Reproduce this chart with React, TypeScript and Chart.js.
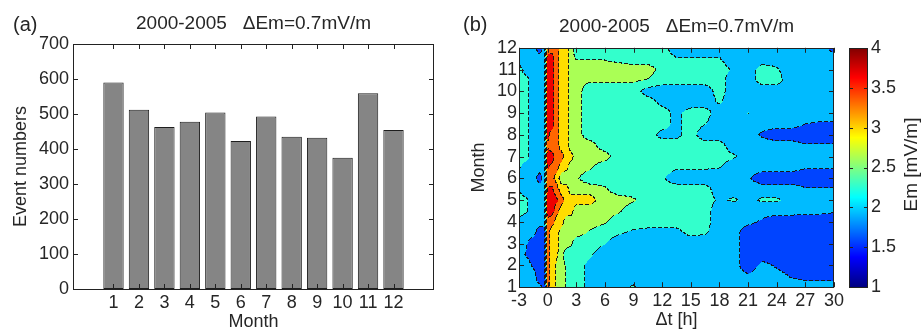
import React, { useEffect, useRef } from 'react';
import { Chart, registerables } from 'chart.js';

Chart.register(...registerables);

const FONT = "'Liberation Sans', Arial, Helvetica, sans-serif";
const TEXT = '#262626';

// ---------- Panel (a) ----------
const months = [1, 2, 3, 4, 5, 6, 7, 8, 9, 10, 11, 12];
const eventNumbers = [590, 512, 463, 478, 504, 423, 493, 435, 432, 375, 559, 454];
const panelTitle = '2000-2005   \u0394Em=0.7mV/m';

// ---------- Panel (b) ----------
const dtNodes = [-3, -2.2, -1.5, -0.8, -0.3, 0, 0.5, 1, 1.5, 2, 2.5, 3, 4.5, 6, 7.5, 9, 10.5, 12, 13.5, 15, 16.5, 18, 19.5, 21, 22.5, 24, 25.5, 27, 28.5, 30];
const monthNodes = [1, 1.5, 2, 2.5, 3, 3.5, 4, 4.5, 5, 5.5, 6, 6.5, 7, 7.5, 8, 8.5, 9, 9.5, 10, 10.5, 11, 11.5, 12];
// Em [mV/m] read at (month, dt) nodes
const emGrid: number[][] = [
  /* 1   */ [1.9, 1.9, 1.9, 1.8, 1.7, 3.3, 2.95, 2.75, 2.6, 2.4, 2.25, 2.25, 2.0, 1.9, 1.9, 2.15, 1.9, 1.9, 1.9, 1.9, 1.9, 1.9, 1.9, 1.9, 1.9, 1.9, 1.9, 1.9, 1.9, 1.9],
  /* 1.5 */ [1.9, 1.9, 1.9, 1.55, 1.55, 3.3, 2.95, 2.75, 2.6, 2.4, 2.25, 2.25, 2.0, 1.9, 1.9, 1.9, 1.9, 1.9, 1.9, 1.9, 1.9, 1.9, 1.9, 1.8, 1.9, 1.9, 1.72, 1.65, 1.65, 1.65],
  /* 2   */ [1.9, 1.9, 1.7, 1.55, 1.55, 3.3, 2.95, 2.75, 2.6, 2.4, 2.25, 2.25, 2.0, 1.9, 1.9, 1.9, 1.9, 1.9, 1.9, 1.9, 1.9, 1.9, 1.9, 1.55, 1.85, 1.7, 1.55, 1.55, 1.55, 1.55],
  /* 2.5 */ [1.9, 1.72, 1.55, 1.55, 1.55, 3.3, 2.95, 2.85, 2.6, 2.25, 2.25, 2.25, 2.15, 1.9, 1.9, 1.9, 1.9, 1.9, 1.9, 1.9, 1.9, 1.9, 1.9, 1.55, 1.55, 1.55, 1.55, 1.55, 1.55, 1.55],
  /* 3   */ [1.9, 1.78, 1.55, 1.55, 1.55, 3.3, 2.95, 2.95, 2.6, 2.6, 2.5, 2.25, 2.25, 2.12, 1.9, 1.9, 1.9, 1.9, 1.9, 1.9, 1.9, 1.9, 1.9, 1.55, 1.55, 1.55, 1.55, 1.55, 1.55, 1.55],
  /* 3.5 */ [1.9, 1.9, 1.9, 1.55, 1.55, 3.3, 2.95, 2.95, 2.6, 2.6, 2.6, 2.6, 2.4, 2.25, 2.15, 2.05, 2.0, 2.0, 2.0, 2.2, 2.15, 1.9, 1.9, 1.55, 1.55, 1.55, 1.55, 1.55, 1.55, 1.55],
  /* 4   */ [2.0, 1.9, 1.9, 1.9, 1.9, 3.45, 3.3, 2.95, 2.95, 2.6, 2.6, 2.6, 2.6, 2.5, 2.25, 2.25, 2.25, 2.25, 2.25, 2.25, 2.25, 1.9, 1.9, 1.85, 1.7, 1.55, 1.55, 1.55, 1.55, 1.55],
  /* 4.5 */ [2.25, 2.15, 1.9, 1.9, 1.9, 3.65, 3.65, 3.3, 2.95, 2.95, 2.95, 2.6, 2.6, 2.6, 2.5, 2.25, 2.25, 2.25, 2.25, 2.25, 2.25, 1.9, 1.9, 1.9, 1.9, 1.9, 1.9, 1.85, 1.85, 1.8],
  /* 5   */ [2.25, 2.15, 1.9, 1.9, 1.9, 3.65, 3.65, 3.55, 3.3, 2.95, 2.95, 2.95, 2.95, 2.6, 2.6, 2.5, 2.25, 2.25, 2.25, 2.25, 2.25, 2.05, 2.15, 2.0, 2.15, 2.15, 2.0, 1.9, 1.9, 1.9],
  /* 5.5 */ [2.05, 1.9, 1.9, 1.9, 1.9, 3.55, 3.55, 3.3, 2.95, 2.95, 2.6, 2.6, 2.6, 2.5, 2.25, 2.25, 2.25, 2.25, 2.25, 2.25, 2.25, 1.9, 1.9, 1.9, 1.9, 1.9, 1.9, 1.78, 1.78, 1.78],
  /* 6   */ [1.9, 1.9, 1.9, 1.6, 1.9, 3.3, 3.3, 2.95, 2.6, 2.6, 2.6, 2.5, 2.25, 2.25, 2.25, 2.25, 2.25, 2.15, 1.9, 1.9, 1.9, 1.9, 1.9, 1.8, 1.55, 1.55, 1.55, 1.55, 1.55, 1.55],
  /* 6.5 */ [2.15, 1.9, 1.9, 1.9, 1.9, 3.55, 3.4, 3.3, 2.95, 2.9, 2.6, 2.6, 2.5, 2.25, 2.25, 2.25, 2.25, 2.25, 2.15, 2.15, 2.15, 2.12, 1.9, 1.9, 1.9, 1.9, 1.9, 1.78, 1.78, 1.78],
  /* 7   */ [2.25, 2.25, 1.9, 1.9, 1.9, 3.65, 3.65, 3.3, 3.3, 2.95, 2.95, 2.6, 2.6, 2.6, 2.25, 2.25, 2.25, 2.25, 2.25, 2.25, 2.25, 2.25, 2.15, 1.9, 1.9, 1.9, 1.9, 1.9, 1.9, 1.9],
  /* 7.5 */ [2.25, 2.25, 1.9, 1.9, 1.9, 3.45, 3.3, 3.3, 2.95, 2.95, 2.6, 2.6, 2.6, 2.25, 2.25, 2.25, 2.25, 2.25, 2.25, 2.25, 2.25, 2.25, 1.9, 1.9, 1.9, 1.9, 1.9, 1.78, 1.78, 1.78],
  /* 8   */ [2.25, 2.25, 1.9, 1.9, 1.9, 3.65, 3.3, 3.3, 2.95, 2.95, 2.6, 2.6, 2.25, 2.25, 2.25, 2.25, 2.25, 2.0, 2.0, 2.25, 1.9, 1.9, 1.9, 1.9, 1.7, 1.55, 1.55, 1.55, 1.55, 1.55],
  /* 8.5 */ [2.25, 2.25, 1.9, 1.9, 1.9, 3.65, 3.65, 3.3, 2.95, 2.95, 2.6, 2.6, 2.25, 2.25, 2.25, 2.25, 2.25, 2.25, 2.0, 2.25, 2.12, 1.9, 1.9, 1.9, 1.9, 1.9, 1.9, 1.76, 1.72, 1.72],
  /* 9   */ [2.25, 2.25, 1.9, 1.9, 1.9, 3.65, 3.65, 3.3, 2.95, 2.95, 2.6, 2.6, 2.25, 2.25, 2.25, 2.25, 2.25, 2.25, 2.02, 2.25, 2.25, 1.9, 1.9, 2.12, 1.9, 1.9, 1.9, 1.9, 1.9, 1.9],
  /* 9.5 */ [2.25, 2.25, 1.9, 1.9, 1.9, 3.65, 3.65, 3.3, 2.95, 2.95, 2.6, 2.6, 2.25, 2.25, 2.25, 2.25, 2.25, 2.0, 1.9, 1.9, 1.9, 2.15, 1.9, 1.9, 1.9, 1.9, 1.9, 1.9, 1.9, 1.9],
  /* 10  */ [2.25, 2.25, 1.9, 1.9, 1.9, 3.65, 3.65, 3.3, 2.95, 2.95, 2.6, 2.6, 2.25, 2.25, 2.25, 2.25, 1.95, 1.9, 1.9, 1.9, 1.9, 2.25, 1.9, 1.9, 1.9, 1.9, 1.9, 1.9, 1.9, 1.9],
  /* 10.5*/ [2.25, 2.25, 1.9, 1.9, 1.9, 3.65, 3.65, 3.3, 2.95, 2.95, 2.6, 2.5, 2.5, 2.5, 2.5, 2.5, 2.43, 2.25, 2.25, 2.25, 2.25, 2.25, 1.9, 1.9, 2.25, 2.25, 1.9, 1.9, 1.9, 1.9],
  /* 11  */ [2.25, 1.9, 1.9, 1.9, 1.9, 3.65, 3.65, 3.3, 2.95, 2.95, 2.6, 2.6, 2.6, 2.6, 2.6, 2.6, 2.6, 2.35, 2.25, 2.25, 2.25, 2.25, 2.05, 1.9, 2.25, 2.15, 1.9, 1.9, 1.9, 1.9],
  /* 11.5*/ [1.9, 1.9, 1.9, 1.9, 1.9, 3.65, 3.65, 3.3, 2.95, 2.95, 2.6, 2.42, 2.42, 2.42, 2.35, 2.25, 2.25, 2.25, 2.12, 2.12, 2.12, 2.12, 1.9, 1.9, 1.9, 1.9, 1.9, 1.9, 1.9, 1.9],
  /* 12  */ [1.9, 1.9, 1.9, 1.55, 1.9, 3.3, 3.3, 3.3, 2.95, 2.95, 2.6, 2.25, 2.25, 2.25, 2.25, 2.25, 2.25, 2.25, 1.9, 1.9, 1.9, 1.9, 1.9, 1.9, 1.9, 1.9, 1.9, 1.9, 1.9, 1.62],
];
const contourLevels = [1.4, 1.75, 2.1, 2.45, 2.8, 3.15, 3.5, 3.85];
const emMin = 1;
const emMax = 4;

// ---------- helpers ----------
function jet(t: number): [number, number, number] {
  const c = (x: number) => Math.max(0, Math.min(1, x));
  return [c(1.5 - Math.abs(4 * t - 3)), c(1.5 - Math.abs(4 * t - 2)), c(1.5 - Math.abs(4 * t - 1))];
}
function emColor(v: number): [number, number, number] {
  const [r, g, b] = jet((v - emMin) / (emMax - emMin));
  return [Math.round(r * 255), Math.round(g * 255), Math.round(b * 255)];
}
function locate(nodes: number[], v: number): [number, number] {
  let k = 0;
  while (k < nodes.length - 2 && v > nodes[k + 1]) k++;
  const f = (v - nodes[k]) / (nodes[k + 1] - nodes[k]);
  return [k, Math.max(0, Math.min(1, f))];
}

const bandColors: [number, number, number][] = [];
for (let k = 0; k <= contourLevels.length; k++) {
  const lo = k === 0 ? emMin : contourLevels[k - 1];
  const hi = k === contourLevels.length ? emMax : contourLevels[k];
  bandColors.push(emColor((lo + hi) / 2));
}

const boxPlugin = {
  id: 'matlabBox',
  afterDatasetsDraw(chart: any) {
    const { ctx, chartArea: a } = chart;
    const xs = chart.scales.x;
    const ys = chart.scales.y;
    const L = 5;
    ctx.save();
    ctx.strokeStyle = '#222';
    ctx.lineWidth = 1;
    ctx.beginPath();
    xs.ticks.forEach((t: any) => {
      const px = Math.round(xs.getPixelForValue(t.value)) + 0.5;
      ctx.moveTo(px, a.bottom);
      ctx.lineTo(px, a.bottom - L);
      ctx.moveTo(px, a.top);
      ctx.lineTo(px, a.top + L);
    });
    ys.ticks.forEach((t: any) => {
      const py = Math.round(ys.getPixelForValue(t.value)) + 0.5;
      ctx.moveTo(a.left, py);
      ctx.lineTo(a.left + L, py);
      ctx.moveTo(a.right, py);
      ctx.lineTo(a.right - L, py);
    });
    ctx.stroke();
    ctx.strokeRect(Math.round(a.left) + 0.5, Math.round(a.top) + 0.5, Math.round(a.right - a.left) - 1, Math.round(a.bottom - a.top));
    ctx.restore();
  },
};

const panelLabel = (text: string) => ({
  id: 'panelLabel',
  afterDraw(chart: any) {
    const ctx = chart.ctx;
    ctx.save();
    ctx.font = `20px ${FONT}`;
    ctx.fillStyle = TEXT;
    ctx.textBaseline = 'middle';
    ctx.textAlign = 'left';
    ctx.fillText(text, 13, 25);
    ctx.restore();
  },
});

const contourPlugin = {
  id: 'contourFill',
  beforeDatasetsDraw(chart: any) {
    const { ctx, chartArea: a } = chart;
    const xs = chart.scales.x;
    const ys = chart.scales.y;
    const x0 = Math.round(a.left);
    const y0 = Math.round(a.top);
    const w = Math.round(a.right) - x0;
    const h = Math.round(a.bottom) - y0;
    const ci = new Int32Array(w);
    const cf = new Float64Array(w);
    for (let i = 0; i < w; i++) {
      const [k, f] = locate(dtNodes, xs.getValueForPixel(x0 + i + 0.5));
      ci[i] = k;
      cf[i] = f;
    }
    const ri = new Int32Array(h);
    const rf = new Float64Array(h);
    for (let j = 0; j < h; j++) {
      const [k, f] = locate(monthNodes, ys.getValueForPixel(y0 + j + 0.5));
      ri[j] = k;
      rf[j] = f;
    }
    const band = new Uint8Array(w * h);
    for (let j = 0; j < h; j++) {
      const r0 = emGrid[ri[j]];
      const r1 = emGrid[ri[j] + 1];
      const g = rf[j];
      for (let i = 0; i < w; i++) {
        const c = ci[i];
        const f = cf[i];
        const v = (1 - g) * ((1 - f) * r0[c] + f * r0[c + 1]) + g * ((1 - f) * r1[c] + f * r1[c + 1]);
        let b = 0;
        while (b < contourLevels.length && v >= contourLevels[b]) b++;
        band[j * w + i] = b;
      }
    }
    const off = document.createElement('canvas');
    off.width = w;
    off.height = h;
    const octx = off.getContext('2d') as CanvasRenderingContext2D;
    const img = octx.createImageData(w, h);
    const d = img.data;
    for (let j = 0; j < h; j++) {
      for (let i = 0; i < w; i++) {
        const k = j * w + i;
        const b = band[k];
        let edge = false;
        if (i + 1 < w && band[k + 1] !== b) edge = true;
        if (j + 1 < h && band[k + w] !== b) edge = true;
        let [r, gg, bb] = bandColors[b];
        if (edge && (i + j) % 6 < 4) {
          r = 25; gg = 25; bb = 25;
        }
        d[k * 4] = r;
        d[k * 4 + 1] = gg;
        d[k * 4 + 2] = bb;
        d[k * 4 + 3] = 255;
      }
    }
    octx.putImageData(img, 0, 0);
    ctx.save();
    ctx.drawImage(off, x0, y0);
    ctx.restore();
  },
};

const colorbarPlugin = {
  id: 'colorbar',
  afterDraw(chart: any) {
    const { ctx } = chart;
    const cb = chart.scales.cb;
    const bx = Math.round(cb.left) + 15;
    const bw = 19;
    const top = Math.round(cb.top);
    const bottom = Math.round(cb.bottom);
    ctx.save();
    for (let y = top; y < bottom; y++) {
      const [r, g, b] = emColor(cb.getValueForPixel(y + 0.5));
      ctx.fillStyle = `rgb(${r},${g},${b})`;
      ctx.fillRect(bx, y, bw, 1);
    }
    ctx.strokeStyle = '#222';
    ctx.lineWidth = 1;
    ctx.strokeRect(bx + 0.5, top + 0.5, bw - 1, bottom - top);
    ctx.beginPath();
    cb.ticks.forEach((t: any) => {
      const py = Math.round(cb.getPixelForValue(t.value)) + 0.5;
      ctx.moveTo(bx, py);
      ctx.lineTo(bx + 4, py);
      ctx.moveTo(bx + bw, py);
      ctx.lineTo(bx + bw - 4, py);
    });
    ctx.stroke();
    ctx.fillStyle = TEXT;
    ctx.font = `19px ${FONT}`;
    ctx.textAlign = 'center';
    ctx.textBaseline = 'middle';
    ctx.translate(Math.round(cb.left) + 78, (top + bottom) / 2 - 3);
    ctx.rotate(-Math.PI / 2);
    ctx.fillText('Em [mV/m]', 0, 0);
    ctx.restore();
  },
};

const titleOpts = {
  display: true,
  text: panelTitle,
  fullSize: false,
  color: TEXT,
  font: { size: 19, weight: 'normal' as const, lineHeight: 1.2 },
  padding: { top: 12, bottom: 44 - 12 - 22.8 },
};

const noGrid = { display: false, drawTicks: false };

export default function App() {
  const refA = useRef<HTMLCanvasElement>(null);
  const refB = useRef<HTMLCanvasElement>(null);

  useEffect(() => {
    Chart.defaults.font.family = FONT;
    Chart.defaults.font.size = 18;
    Chart.defaults.color = TEXT;

    const chartA = new Chart(refA.current as HTMLCanvasElement, {
      type: 'bar',
      data: {
        datasets: [
          {
            data: months.map((m, i) => ({ x: m, y: eventNumbers[i] })),
            backgroundColor: '#858585',
            borderColor: '#1e1e1e',
            borderWidth: 1,
            borderSkipped: false,
            barPercentage: 0.8,
            categoryPercentage: 1,
          } as any,
        ],
      },
      options: {
        responsive: false,
        animation: false,
        events: [],
        layout: { padding: { left: 0, right: 16, top: 0, bottom: 0 } },
        plugins: { legend: { display: false }, tooltip: { enabled: false }, title: titleOpts as any },
        scales: {
          x: {
            type: 'linear',
            min: 0,
            max: 13,
            afterBuildTicks: (s: any) => {
              s.ticks = months.map((v) => ({ value: v }));
            },
            ticks: { autoSkip: false, maxRotation: 0, padding: 3 },
            grid: noGrid,
            border: { display: false },
            title: { display: true, text: 'Month', padding: { top: 0, bottom: 2 } },
            afterFit: (s: any) => {
              s.height = 46;
            },
          },
          y: {
            type: 'linear',
            min: 0,
            max: 700,
            ticks: { stepSize: 100, padding: 4 },
            grid: noGrid,
            border: { display: false },
            title: { display: true, text: 'Event numbers', padding: { top: 10, bottom: 0 } },
            afterFit: (s: any) => {
              s.width = 73;
            },
          },
        },
      },
      plugins: [boxPlugin, panelLabel('(a)')],
    });

    const chartB = new Chart(refB.current as HTMLCanvasElement, {
      type: 'scatter',
      data: { datasets: [{ data: [] }] },
      options: {
        responsive: false,
        animation: false,
        events: [],
        layout: { padding: { left: 0, right: 0, top: 0, bottom: 0 } },
        plugins: { legend: { display: false }, tooltip: { enabled: false }, title: titleOpts as any },
        scales: {
          x: {
            type: 'linear',
            min: -3,
            max: 30,
            ticks: { stepSize: 3, autoSkip: false, maxRotation: 0, padding: 3 },
            grid: noGrid,
            border: { display: false },
            title: { display: true, text: '\u0394t [h]', padding: { top: 0, bottom: 2 } },
            afterFit: (s: any) => {
              s.height = 46;
            },
          },
          y: {
            type: 'linear',
            min: 1,
            max: 12,
            ticks: { stepSize: 1, autoSkip: false, padding: 2 },
            grid: noGrid,
            border: { display: false },
            title: { display: true, text: 'Month', padding: { top: 18, bottom: 0 } },
            afterFit: (s: any) => {
              s.width = 69;
            },
          },
          cb: {
            type: 'linear',
            position: 'right',
            min: emMin,
            max: emMax,
            ticks: {
              stepSize: 0.5,
              autoSkip: false,
              padding: 37,
              callback: (v: any) => String(Number(v)),
            },
            grid: noGrid,
            border: { display: false },
            afterFit: (s: any) => {
              s.width = 89;
            },
          },
        },
      },
      plugins: [contourPlugin, boxPlugin, colorbarPlugin, panelLabel('(b)')],
    });

    return () => {
      chartA.destroy();
      chartB.destroy();
    };
  }, []);

  return (
    <div style={{ position: 'absolute', left: 0, top: 0, width: 923, height: 335, background: '#fff' }}>
      <canvas ref={refA} width={450} height={335} style={{ position: 'absolute', left: 0, top: 0, width: 450, height: 335 }} />
      <canvas ref={refB} width={473} height={335} style={{ position: 'absolute', left: 450, top: 0, width: 473, height: 335 }} />
    </div>
  );
}
